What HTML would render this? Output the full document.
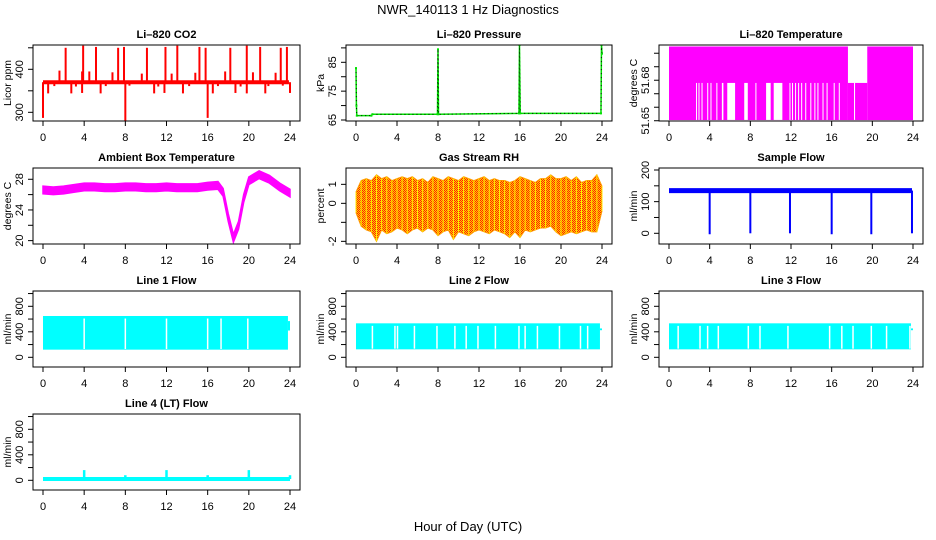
<!DOCTYPE html>
<html><head><meta charset="utf-8"><style>
html,body{margin:0;padding:0;background:#fff;}
svg{display:block;font-family:"Liberation Sans",sans-serif;}
</style></head><body>
<svg id="chart" width="936" height="540" viewBox="0 0 936 540" xmlns="http://www.w3.org/2000/svg">
<defs>
<pattern id="rhpat" width="2" height="2" patternUnits="userSpaceOnUse">
<rect width="2" height="2" fill="#ffcc00"/><rect width="1" height="1" fill="#ff2000"/><rect x="1" y="1" width="1" height="1" fill="#ff2000"/>
</pattern>
</defs>
<text x="468" y="14" text-anchor="middle" font-size="13">NWR_140113 1 Hz Diagnostics</text>
<text x="468" y="531" text-anchor="middle" font-size="13">Hour of Day (UTC)</text>
</svg>
<script>
// ---- data ----
const xTicks = [0,4,8,12,16,20,24];
const co2Base = 370;
const co2SpikeTimes = [2.2,3.9,5.15,7.3,7.87,10.1,11.9,13.05,15.2,15.8,18.2,19.8,21.1,23.1,23.7,1.6,3.8,4.5,6.75,9.6,12.5,14.8,17.7,20.4,22.6,0,8,16,0.5,2.75,3.8,5.6,10.8,11.8,13.6,16.5,18.7,19.8,21.6,24,1.1,3.2,6.1,8.4,11.2,14.2,17.0,19.2,21.9,23.3];
const co2SpikeVals = [450,455,452,450,452,450,452,455,452,450,450,455,452,450,452,397,395,395,393,390,390,392,395,393,392,287,280,287,344,344,345,344,344,345,344,344,345,344,344,345,361,360,361,362,360,361,361,360,361,362];
const pressTimes = [0,0.04,0.08,1.5,1.6,7.95,8,8.05,15.9,15.95,16.02,23.9,23.95,24];
const pressVals = [83,70,66.5,66.5,67,67,89.5,67,67.3,91,67.3,67.3,91,88];
const tempHiStart = [0,17.6,19.5];
const tempHiEnd = [17.6,19.5,24];
const tempHiVal = [51.705,51.678,51.705];
const tempGapStart = [2.66,2.9,3.2,3.76,4.08,4.66,5.2,5.73,7.4,8.5,9.55,10.3,11.85,12.1,12.4,12.7,13.0,13.4,13.9,14.3,14.6,15.1,15.5,16.2,16.7,18.2];
const tempGapEnd = [2.72,2.96,3.26,3.82,4.14,4.72,5.35,6.5,7.75,8.56,10.0,11.15,11.9,12.15,12.45,12.75,13.05,13.45,13.95,14.35,14.65,15.15,15.55,16.25,16.75,18.3];
const ambTimes = [0,1,2,3,4,5,6,7,8,9,10,11,12,13,14,15,16,17,17.5,18,18.5,19,19.5,20,21,22,23,24];
const ambVals = [26.6,26.5,26.6,26.8,27.0,27.0,26.9,26.9,27.0,27.0,26.9,26.9,27.0,26.9,26.9,26.9,27.1,27.2,26.3,23,20.3,22,25.5,27.8,28.6,28,27,26.2];
const rhTimes = [0,0.5,1,1.5,2,2.5,3,3.5,4,4.5,5,5.5,6,6.5,7,7.5,8,8.5,9,9.5,10,10.5,11,11.5,12,12.5,13,13.5,14,14.5,15,15.5,16,16.5,17,17.5,18,18.5,19,19.5,20,20.5,21,21.5,22,22.5,23,23.5,24];
const rhMax = [0.6,1.2,1.3,1.2,1.5,1.3,1.4,1.2,1.3,1.4,1.3,1.4,1.2,1.3,1.1,1.4,1.3,1.2,1.4,1.3,1.2,1.4,1.3,1.2,1.3,1.4,1.2,1.3,1.2,1.2,1.1,1.2,1.4,1.3,1.2,1.1,1.3,1.3,1.5,1.3,1.3,1.4,1.2,1.4,1.1,1.2,1.2,1.5,0.9];
const rhMin = [-0.5,-1.2,-1.4,-1.5,-2.0,-1.4,-1.6,-1.5,-1.3,-1.4,-1.6,-1.4,-1.3,-1.5,-1.3,-1.4,-1.7,-1.5,-1.4,-1.9,-1.5,-1.6,-1.7,-1.5,-1.4,-1.5,-1.6,-1.4,-1.5,-1.6,-1.8,-1.5,-1.8,-1.4,-1.5,-1.4,-1.3,-1.3,-1.2,-1.5,-1.7,-1.6,-1.5,-1.6,-1.5,-1.4,-1.5,-1.5,-0.4];
const sfBase = 135;
const sfDropTimes = [4,8,11.9,16,19.9,23.9];
const sfDropVals = [-3,0,0,-3,-3,0];
const l1Lo = 120, l1Hi = 648;
const l1Gaps = [4.0,8.0,12.0,16.0,17.3,19.9];
const l2Lo = 125, l2Hi = 533;
const l2Gaps = [1.6,3.8,4.05,5.7,7.9,9.65,10.75,11.9,13.6,15.9,16.5,17.7,19.85,21.9,22.6];
const l3Lo = 125, l3Hi = 533;
const l3Gaps = [0.9,3.05,3.8,4.85,7.8,8.95,11.7,15.8,17,18.1,19.9,21.4,23.7];
const l4Base = 20;
const l4SpikeTimes = [4,8,12,16,20,24];
const l4SpikeVals = [160,80,160,80,160,80];

// ---- layout ----
const svg = document.getElementById('chart');
const NS = 'http://www.w3.org/2000/svg';
const colsX = [[33,300],[346,612],[659,923]];
const rowsY = [[45,121],[168,244],[291,367],[414,490]];
function mk(tag, attrs, parent){ const e=document.createElementNS(NS,tag); for(const k in attrs) e.setAttribute(k,attrs[k]); (parent||svg).appendChild(e); return e; }

function panel(name, col, row, title, ylab, ymin, ymax, ticks, labels){
  const [L,R]=colsX[col], [T,B]=rowsY[row];
  const g=mk('g',{});
  
  
  const sx=h=>L+10+(R-L-20)*h/24;
  const sy=v=>B-(v-ymin)/(ymax-ymin)*(B-T);
  const clip=mk('clipPath',{id:'clip-'+name},g);
  mk('rect',{x:L,y:T,width:R-L,height:B-T},clip);
  const plot=mk('g',{'clip-path':'url(#clip-'+name+')'},g);
  
  
  const box=mk('rect',{x:L,y:T,width:R-L,height:B-T,fill:'none',stroke:'#000','stroke-width':1},g);
  
  
  const tt=mk('text',{x:(L+R)/2,y:T-7,'text-anchor':'middle','font-size':11,'font-weight':'bold'},g);
  tt.textContent=title;
  
  
  const xa=mk('g',{},g);
  
  
  mk('line',{x1:sx(0),x2:sx(24),y1:B,y2:B,stroke:'#000'},xa);
  xTicks.forEach(t=>{
    mk('line',{x1:sx(t),x2:sx(t),y1:B,y2:B+5,stroke:'#000'},xa);
    const lb=mk('text',{x:sx(t),y:B+20,'text-anchor':'middle','font-size':11},xa);
    lb.textContent=t;
    
    
  });
  const ya=mk('g',{},g);
  
  
  mk('line',{x1:L,x2:L,y1:sy(ticks[0]),y2:sy(ticks[ticks.length-1]),stroke:'#000'},ya);
  ticks.forEach(t=>mk('line',{x1:L-5,x2:L,y1:sy(t),y2:sy(t),stroke:'#000'},ya));
  labels.forEach(t=>{
    const y=sy(t), x=L-13;
    const lb=mk('text',{x:x,y:y,'text-anchor':'middle','dominant-baseline':'central','font-size':11,transform:`rotate(-90 ${x} ${y})`},ya);
    lb.textContent=t;
    
    
  });
  const yt=mk('text',{x:L-25,y:(T+B)/2,'text-anchor':'middle','dominant-baseline':'central','font-size':10.5,transform:`rotate(-90 ${L-25} ${(T+B)/2})`},g);
  yt.textContent=ylab;
  
  
  return {sx,sy,plot,T,B};
}

// CO2
(function(){
  const p=panel('co2',0,0,'Li\u2013820 CO2','Licor ppm',279.8,456.5,[300,350,400,450],[300,400]);
  co2SpikeTimes.forEach((t,i)=>{
    const l=mk('line',{x1:p.sx(t),x2:p.sx(t),y1:p.sy(co2Base),y2:p.sy(co2SpikeVals[i]),stroke:'#f00','stroke-width':2},p.plot);
    
    
  });
  const b=mk('line',{x1:p.sx(0),x2:p.sx(23.9),y1:p.sy(co2Base),y2:p.sy(co2Base),stroke:'#f00','stroke-width':4},p.plot);
  
  
})();

// Pressure
(function(){
  const p=panel('pressure',1,0,'Li\u2013820 Pressure','kPa',64.65,91,[65,70,75,80,85,90],[65,75,85]);
  const pts=pressTimes.map((t,i)=>p.sx(t)+','+p.sy(pressVals[i])).join(' ');
  const g=mk('polyline',{points:pts,fill:'none',stroke:'#00e000','stroke-width':1.5},p.plot);
  
  
  const d=mk('polyline',{points:pts,fill:'none',stroke:'#000','stroke-width':1,'stroke-dasharray':'1,3'},p.plot);
  
  
  pressTimes.forEach((t,i)=>{
    const c=mk('rect',{x:p.sx(t)-1,y:p.sy(pressVals[i])-1,width:2,height:2,fill:'#00e000'},p.plot);
    
    
  });
})();

// Li-820 Temperature
(function(){
  const p=panel('li820-temp',2,0,'Li\u2013820 Temperature','degrees C',51.6498,51.7061,[51.65,51.66,51.67,51.68,51.69,51.70],[51.65,51.68]);
  tempHiStart.forEach((s,i)=>{
    const r=mk('rect',{x:p.sx(s),y:p.sy(tempHiVal[i]),width:p.sx(tempHiEnd[i])-p.sx(s),height:p.sy(51.6505)-p.sy(tempHiVal[i]),fill:'#f0f'},p.plot);
    
    
  });
  tempGapStart.forEach((s,i)=>{
    const r=mk('rect',{x:p.sx(s),y:p.sy(51.678),width:Math.max(1,p.sx(tempGapEnd[i])-p.sx(s)),height:p.sy(51.6506)-p.sy(51.678),fill:'#fff'},p.plot);
    
    
  });
})();

// Ambient
(function(){
  const p=panel('ambient-temp',0,1,'Ambient Box Temperature','degrees C',19.56,29.47,[20,22,24,26,28],[20,24,28]);
  const up=ambTimes.map((t,i)=>p.sx(t)+','+p.sy(ambVals[i]+0.5));
  const dn=ambTimes.map((t,i)=>p.sx(t)+','+p.sy(ambVals[i]-0.5)).reverse();
  const poly=mk('polygon',{points:up.concat(dn).join(' '),fill:'#f0f',stroke:'#f0f','stroke-width':1.5},p.plot);
  
  
})();

// RH
(function(){
  const p=panel('rh',1,1,'Gas Stream RH','percent',-2.14,1.86,[-2,-1,0,1],[-2,0,1]);
  const up=rhTimes.map((t,i)=>p.sx(t)+','+p.sy(rhMax[i]));
  const dn=rhTimes.map((t,i)=>p.sx(t)+','+p.sy(rhMin[i])).reverse();
  const poly=mk('polygon',{points:up.concat(dn).join(' '),fill:'url(#rhpat)',stroke:'#ff9900','stroke-width':1},p.plot);
  
  
  rhTimes.forEach((t,i)=>{
    const l=mk('line',{x1:p.sx(t),x2:p.sx(t),y1:p.sy(rhMax[i]),y2:p.sy(rhMin[i]),stroke:'#ffee00','stroke-width':1},p.plot);
    
    
  });
})();

// Sample flow
(function(){
  const p=panel('sample-flow',2,1,'Sample Flow','ml/min',-33.8,206.3,[0,50,100,150,200],[0,100,200]);
  const b=mk('line',{x1:p.sx(0),x2:p.sx(23.9),y1:p.sy(sfBase),y2:p.sy(sfBase),stroke:'#00f','stroke-width':5},p.plot);
  
  
  sfDropTimes.forEach((t,i)=>{
    const l=mk('line',{x1:p.sx(t),x2:p.sx(t),y1:p.sy(sfBase),y2:p.sy(sfDropVals[i]),stroke:'#00f','stroke-width':2},p.plot);
    
    
  });
})();

// Line flows
function flowPanel(name,col,row,title,lo,hi,gaps){
  const p=panel(name,col,row,title,'ml/min',-152,1040,[0,200,400,600,800,1000],[0,400,800]);
  const r=mk('rect',{x:p.sx(0),y:p.sy(hi),width:p.sx(23.8)-p.sx(0),height:p.sy(lo)-p.sy(hi),fill:'#0ff'},p.plot);
  
  
  const e=mk('rect',{x:p.sx(23.8),y:p.sy(hi-80),width:p.sx(24)-p.sx(23.8),height:p.sy(lo+300)-p.sy(hi-80),fill:'#0ff'},p.plot);
  
  
  gaps.forEach(t=>{
    const l=mk('line',{x1:p.sx(t),x2:p.sx(t),y1:p.sy(hi-40),y2:p.sy(lo+10),stroke:'#fff','stroke-width':1.5},p.plot);
    
    
  });
  return p;
}
flowPanel('line1-flow',0,2,'Line 1 Flow',l1Lo,l1Hi,l1Gaps);
flowPanel('line2-flow',1,2,'Line 2 Flow',l2Lo,l2Hi,l2Gaps);
flowPanel('line3-flow',2,2,'Line 3 Flow',l3Lo,l3Hi,l3Gaps);
(function(){
  const p=panel('line4-flow',0,3,'Line 4 (LT) Flow','ml/min',-152,1040,[0,200,400,600,800,1000],[0,400,800]);
  const b=mk('line',{x1:p.sx(0),x2:p.sx(24),y1:p.sy(l4Base),y2:p.sy(l4Base),stroke:'#0ff','stroke-width':4},p.plot);
  
  
  l4SpikeTimes.forEach((t,i)=>{
    const l=mk('line',{x1:p.sx(t),x2:p.sx(t),y1:p.sy(l4Base),y2:p.sy(l4SpikeVals[i]),stroke:'#0ff','stroke-width':2.5},p.plot);
    
    
  });
})();
</script>
</body></html>
